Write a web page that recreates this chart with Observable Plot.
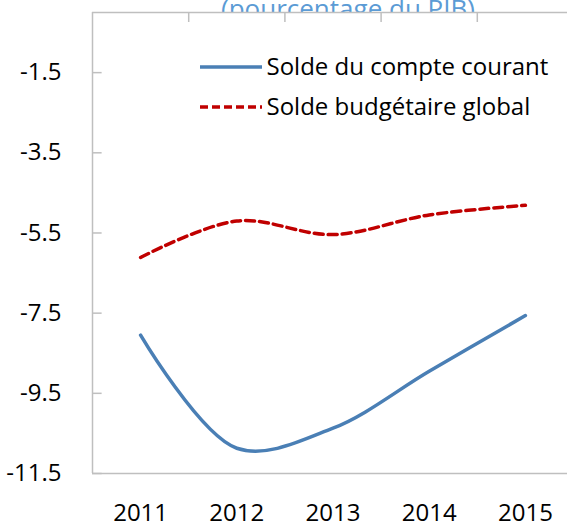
<!DOCTYPE html>
<html><head><meta charset="utf-8">
<script src="https://cdn.jsdelivr.net/npm/d3@7"></script>
<script src="https://cdn.jsdelivr.net/npm/@observablehq/plot@0.6"></script>
<style>
body{margin:0;background:#fff;}
#chart{position:relative;width:567px;height:525px;overflow:hidden;}
#chart svg{overflow:hidden;}
</style>
</head><body><div id="chart"></div>
<script>
const years = [2011, 2012, 2013, 2014, 2015];
const compteCourant = [-8.05, -10.87, -10.37, -8.95, -7.56];
const soldeBudgetaire = [-6.11, -5.2, -5.54, -5.05, -4.81];
const seriesNames = ["Solde du compte courant", "Solde budgétaire global"];
const seriesColors = ["#4a7fb5", "#c00000"];
const yTicks = [-1.5, -3.5, -5.5, -7.5, -9.5, -11.5];
const yDomain = [-11.5, 0];
const title = "(pourcentage du PIB)";

const rowsCC = years.map((y, i) => ({year: y, value: compteCourant[i]}));
const rowsSB = years.map((y, i) => ({year: y, value: soldeBudgetaire[i]}));
const boundaries = years.slice(1).map(y => y - 0.5);
const xLeft = years[0] - 0.5;
const xRight = years[years.length - 1] + 0.5;

const grey = "#bfbfbf";
const legendMarks = seriesNames.map((name, i) =>
  Plot.text([name], {frameAnchor: "top-left", dx: 174, dy: 55 + i * 40, lineAnchor: "middle", textAnchor: "start", fill: "#000", fontSize: 24})
);
const plot = Plot.plot({
  width: 567, height: 525,
  marginLeft: 92, marginRight: 0, marginTop: 12, marginBottom: 52,
  style: {fontFamily: "'Open Sans', sans-serif", fontSize: "24px", background: "#fff", color: "#000"},
  x: {type: "linear", domain: [xLeft, xRight], range: [92, 573]},
  y: {domain: yDomain},
  marks: [
    Plot.text([title], {frameAnchor: "top", dx: 18, dy: 5, lineAnchor: "bottom", fill: "#5b9bd5", fontSize: 26}),
    Plot.frame({fill: "#fff", stroke: null}),
    Plot.ruleY([yDomain[1], yDomain[0]], {stroke: grey, strokeWidth: 1.5}),
    Plot.ruleX([xLeft], {stroke: grey, strokeWidth: 1.5}),
    Plot.ruleX(boundaries, {y1: yDomain[1], y2: yDomain[1] - 0.25, stroke: grey, strokeWidth: 1.5}),
    Plot.ruleY(yTicks, {x1: xLeft, x2: xLeft + 0.1, stroke: grey, strokeWidth: 1.5}),
    Plot.axisY({ticks: yTicks, tickSize: 0, tickPadding: 31, tickFormat: d => d.toFixed(1), label: null, fontSize: 24}),
    Plot.axisX({ticks: years, tickSize: 0, tickPadding: 30, tickFormat: d => String(d), label: null, fontSize: 24}),
    Plot.line(rowsCC, {x: "year", y: "value", stroke: seriesColors[0], strokeWidth: 3.5, curve: "catmull-rom"}),
    Plot.line(rowsSB, {x: "year", y: "value", stroke: seriesColors[1], strokeWidth: 3.5, strokeDasharray: "9 5", curve: "catmull-rom"}),
    ...legendMarks
  ]
});

// legend line samples
const svg = d3.select(plot);
seriesNames.forEach((name, i) => {
  svg.append("line")
    .attr("x1", 200).attr("x2", 262)
    .attr("y1", 67 + i * 40).attr("y2", 67 + i * 40)
    .attr("stroke", seriesColors[i]).attr("stroke-width", 3.5)
    .attr("stroke-dasharray", i === 1 ? "8 4" : null);
});
document.getElementById("chart").appendChild(plot);
</script>
</body></html>
